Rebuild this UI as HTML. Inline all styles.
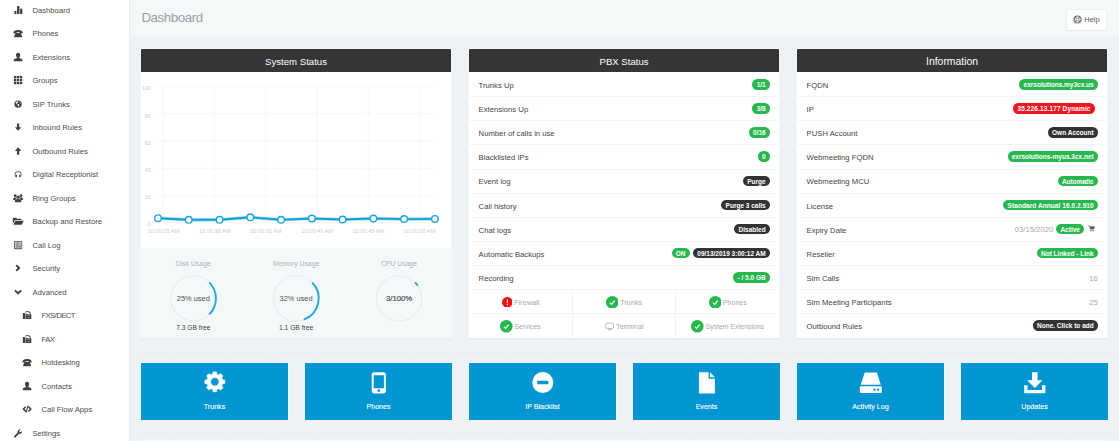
<!DOCTYPE html>
<html>
<head>
<meta charset="utf-8">
<title>Dashboard</title>
<style>
*{box-sizing:border-box;margin:0;padding:0}
html,body{width:1119px;height:441px;overflow:hidden;background:#eef2f4;font-family:"Liberation Sans",sans-serif;font-size:7.7px;color:#484848}
#side{position:absolute;left:0;top:0;width:130px;height:441px;background:#fff;border-right:1px solid #e9eef1}
.nav{position:absolute;left:0;width:129px;height:23.5px;line-height:23.5px;white-space:nowrap;color:#4d4d4d;font-size:7.7px}
.nav svg{position:absolute;left:13.0px;top:6.4px;width:10.2px;height:10.2px;fill:#3b4044;overflow:visible}
.nav span{position:absolute;left:32.4px;top:.25px}
.nav.sub svg{left:22.0px}
.nav.sub span{left:41.4px}
#top{position:absolute;left:130px;top:0;width:989px;height:37.6px;background:#f5f8f9;border-bottom:1px solid #ecf0f2}
#top h1{position:absolute;left:11.4px;top:9.5px;font-size:13.4px;line-height:16px;font-weight:400;color:#98a0a5;letter-spacing:-.47px}
#help{position:absolute;left:937px;top:10px;width:39px;height:20px;background:#fff;border-radius:1.5px;font-size:7.4px;color:#555;line-height:18.6px;box-shadow:0 0 0 .5px #e6eaed,0 .8px 1px rgba(0,0,0,.05)}
#help svg{position:absolute;left:6.1px;top:4.9px;width:9px;height:9px}
#help span{position:absolute;left:17.3px;top:0;transform:translateY(1.1px)}
.panel{position:absolute;top:49.3px;width:309.9px;height:288.8px;background:#fff;box-shadow:0 0 0 1px rgba(255,255,255,.35),0 1px 1px rgba(0,0,0,.08)}
.panel .hd{height:23px;margin-bottom:.7px;background:#353535;color:#fff;text-align:center;font-size:9.6px;line-height:25.6px;overflow:hidden;border-radius:1px 1px 0 0}
.row{position:relative;height:24.15px;border-bottom:1px solid #f4f4f4;line-height:23.6px}
.row .l{position:absolute;left:9.5px;top:.9px;white-space:nowrap;color:#444}
.row .r{position:absolute;right:9.1px;top:-.8px;white-space:nowrap;color:#a2aab0;display:flex;align-items:center;height:24.15px}
.b{display:inline-block;height:10.5px;line-height:12.2px;overflow:hidden;border-radius:5.3px;padding:0 4.2px;color:#fff;font-weight:700;font-size:6.5px;background:#27b84d;margin-left:3.4px}
.t{position:relative;top:1px}
.b.k{background:#333}
.b.rd{background:#ef1620}
.grid{display:flex;height:24.15px;border-bottom:1px solid #f4f4f4}
.grid div{flex:1;border-right:1px solid #f3f3f3;display:flex;align-items:center;justify-content:center;color:#a8a8a8;font-size:7.05px;padding-top:.4px}
.grid div:last-child{border-right:0}
.grid svg{width:12.6px;height:12.6px;margin-right:1.8px}.grid svg.ex{width:10.6px;height:10.6px;margin-right:2px}
.dots{position:absolute;left:141px;width:978px;height:1px;background:repeating-linear-gradient(90deg,#e2e6e9 0 1.2px,transparent 1.2px 2.35px)}
.tile{position:absolute;top:363px;width:146.4px;height:57.3px;background:#0095d3;color:#fff;text-align:center;font-size:7.1px;font-weight:700;box-shadow:0 0 0 .5px rgba(255,255,255,.6)}
.tile svg{position:absolute;left:50%;top:7.6px;width:23.6px;height:23.6px;margin-left:-11.6px;fill:#fff}
.tile span{position:absolute;left:0;right:0;top:38.8px;line-height:10px;font-weight:400;-webkit-text-stroke:.12px #fff}
</style>
</head>
<body>
<div id="side">
<!--NAV0-->
<div class="nav" style="top:-1.55px"><svg viewBox="0 0 24 24"><rect x="3.2" y="14" width="4.8" height="7.4"/><rect x="9.6" y="2.600" width="5.600" height="18.800"/><rect x="16.8" y="8.600" width="5.200" height="12.800"/></svg><span>Dashboard</span></div>
<div class="nav" style="top:21.95px"><svg viewBox="0 0 24 24"><path d="M1.200 10.400c0-2.400 3.400-5.800 10.800-5.800s10.800 3.400 10.800 5.800v1.400c0 .8-.5 1.200-1.300 1.200h-4.200c-.8 0-1.300-.4-1.300-1.200V9.800c-1.300-.4-2.600-.6-4-.6s-2.700.2-4 .6v2c0 .8-.5 1.200-1.300 1.200H2.500c-.8 0-1.300-.4-1.300-1.200z"/><path d="M8 11h8c.9 0 1.500.500 1.900 1.300l3 6c.4.900.5 1.500.5 2.100 0 .8-.5 1.300-1.300 1.300H3.900c-.8 0-1.300-.5-1.300-1.300 0-.6.100-1.200.500-2.100l3-6c.4-.8 1-1.300 1.900-1.300z"/></svg><span>Phones</span></div>
<div class="nav" style="top:45.45px"><svg viewBox="0 0 24 24"><path d="M12 2c3 0 5 2.200 5 5.200 0 2-.8 3.900-2 5.100v1.300c0 .5.300.800.800 1l4.800 1.900c1.100.5 1.600 1.300 1.600 2.500v2.800H1.800V19c0-1.200.5-2 1.600-2.500l4.800-1.900c.5-.2.800-.5.800-1v-1.300c-1.200-1.200-2-3.100-2-5.100C7 4.200 9 2 12 2z"/></svg><span>Extensions</span></div>
<div class="nav" style="top:68.95px"><svg viewBox="0 0 24 24"><rect x="2.2" y="2.2" width="5.600" height="5.600"/><rect x="2.2" y="9.2" width="5.600" height="5.600"/><rect x="2.2" y="16.2" width="5.600" height="5.600"/><rect x="9.2" y="2.2" width="5.600" height="5.600"/><rect x="9.2" y="9.2" width="5.600" height="5.600"/><rect x="9.2" y="16.2" width="5.600" height="5.600"/><rect x="16.2" y="2.2" width="5.600" height="5.600"/><rect x="16.2" y="9.2" width="5.600" height="5.600"/><rect x="16.2" y="16.2" width="5.600" height="5.600"/></svg><span>Groups</span></div>
<div class="nav" style="top:92.45px"><svg viewBox="0 0 24 24"><g transform="translate(12 12) scale(.84) translate(-12 -12)"><path fill-rule="evenodd" d="M12 1.600a10.400 10.400 0 1 0 0 20.800 10.400 10.400 0 0 0 0-20.800zM4.800 9c1.400-3 3.600-4.500 6.400-4.800l1.700 1.600-1.200 1.900-2.500.4-.6 2.400 2.300 1.100 2.800.2 1.800 1.700-.5 2.800-2.400 3.100-1.200-2.800-.2-2.900-2.400-1.300-2.300-2.500zM19.800 9.400l-2.500 1-1.300-1.800 1.400-1.800c1.100.7 1.900 1.500 2.400 2.600z"/></g></svg><span>SIP Trunks</span></div>
<div class="nav" style="top:115.95px"><svg viewBox="0 0 24 24"><path d="M9.400 3.400h5.200v9h4.800L12 20.800 4.600 12.400h4.800z"/></svg><span>Inbound Rules</span></div>
<div class="nav" style="top:139.45px"><svg viewBox="0 0 24 24"><path d="M9.400 20.600h5.200v-9h4.800L12 3.200 4.600 11.600h4.800z"/></svg><span>Outbound Rules</span></div>
<div class="nav" style="top:162.95px"><svg viewBox="0 0 24 24"><g transform="translate(12 12.6) scale(.86) translate(-12 -12)"><path d="M12 3.600a9.400 9.400 0 0 0-9.400 9.400c0 2.200.800 4.300 2.100 5.900l1.500-1.100a7.600 7.600 0 0 1-1.700-4.800 7.500 7.500 0 0 1 15 0c0 1.800-.600 3.500-1.700 4.800l1.500 1.100a9.400 9.400 0 0 0 2.100-5.900A9.400 9.400 0 0 0 12 3.600z"/><rect x="5" y="12.800" width="4" height="7" rx="1.300"/><rect x="15" y="12.800" width="4" height="7" rx="1.300"/></g></svg><span>Digital Receptionist</span></div>
<div class="nav" style="top:186.45px"><svg viewBox="0 0 24 24"><circle cx="12" cy="9.800" r="3.900"/><path d="M4.400 21.600v-2.600c0-3 2.800-4.800 7.600-4.800s7.600 1.800 7.600 4.800v2.600z"/><circle cx="5.200" cy="6.200" r="3.300"/><path d="M.4 16.600v-2.400c0-2.200 1.700-3.600 4.800-3.600.9 0 1.700.1 2.400.4-.2 1.400.2 2.700 1.200 3.700-1.900.300-3.600.900-4.700 1.900z"/><circle cx="18.800" cy="6.200" r="3.300"/><path d="M23.600 16.600v-2.400c0-2.200-1.700-3.600-4.800-3.600-.9 0-1.700.1-2.400.4.200 1.400-.2 2.700-1.200 3.700 1.900.300 3.600.900 4.700 1.900z"/></svg><span>Ring Groups</span></div>
<div class="nav" style="top:209.95px"><svg viewBox="0 0 24 24"><g transform="translate(-1.2 0) scale(1.13 1)"><path d="M.8 18.600V5.400c0-.8.500-1.300 1.300-1.300h5.400l2 2.200h7.800c.8 0 1.300.5 1.300 1.300v1.800H6.400c-.9 0-1.500.4-1.900 1.200z"/><path d="M2 20.400l3.700-8.400c.3-.6.700-.9 1.400-.9h15.700c.5 0 .7.400.5.900l-3.500 7.600c-.3.600-.7.800-1.400.8z"/></g></svg><span>Backup and Restore</span></div>
<div class="nav" style="top:233.45px"><svg viewBox="0 0 24 24"><path fill="#4c5257" fill-rule="evenodd" d="M3.800 2.400h16.400c.8 0 1.400.6 1.400 1.400v16.400c0 .8-.6 1.400-1.400 1.400H3.800c-.8 0-1.400-.6-1.400-1.400V3.800c0-.8.600-1.400 1.400-1.400zM4.400 4.400v15.200h15.200V4.400z"/><rect x="5.800" y="5.800" width="4.600" height="12.400" fill="#8e9498"/><path fill-rule="evenodd" fill="#7b8186" d="M12.800 5.800h5.400v12.400h-5.400zM14.200 8v1.800h2.600V8zM14.200 11.400v1.800h2.600v-1.800z"/><rect x="10.800" y="4.400" width="1.600" height="15.200" fill="#4c5257"/></svg><span>Call Log</span></div>
<div class="nav" style="top:256.95px"><svg viewBox="0 0 24 24"><path d="M9.200 3.800L6 7l5.200 5L6 17l3.200 3.200L17.600 12z"/></svg><span>Security</span></div>
<div class="nav" style="top:280.45px"><svg viewBox="0 0 24 24"><path d="M3 9.400l3.200-3.200 5.800 5.600 5.800-5.600L21 9.400l-9 8.800z"/></svg><span>Advanced</span></div>
<div class="nav sub" style="top:303.95px"><svg viewBox="0 0 24 24"><path fill-rule="evenodd" d="M2 8.200c0-.8.600-1.400 1.400-1.400h2.200c.8 0 1.400.6 1.400 1.400v11.800c0 .8-.6 1.400-1.400 1.400H3.400c-.8 0-1.400-.6-1.400-1.400zM8.600 3h8.400l3 3v3.200h-1.600V7h-2.400V4.600h-5.800v4.600H8.600zM8 9.800h12.600c.8 0 1.400.6 1.400 1.400v8.800c0 .8-.6 1.400-1.400 1.400H8zM11 12.800v1.400h1.700v-1.400zM14.200 12.800v1.400h1.700v-1.400zM17.400 12.800v1.400h1.700v-1.400zM11 16.400v1.400h1.700v-1.400zM14.200 16.400v1.400h1.700v-1.400zM17.400 16.400v1.400h1.700v-1.400z"/></svg><span style="letter-spacing:-.58px">FXS/DECT</span></div>
<div class="nav sub" style="top:327.45px"><svg viewBox="0 0 24 24"><path fill-rule="evenodd" d="M2 8.200c0-.8.600-1.400 1.400-1.400h2.200c.8 0 1.400.6 1.400 1.400v11.800c0 .8-.6 1.400-1.400 1.400H3.400c-.8 0-1.400-.6-1.400-1.400zM8.600 3h8.400l3 3v3.200h-1.600V7h-2.400V4.600h-5.800v4.600H8.600zM8 9.800h12.600c.8 0 1.400.6 1.400 1.400v8.800c0 .8-.6 1.400-1.400 1.400H8zM11 12.800v1.400h1.700v-1.400zM14.200 12.800v1.400h1.700v-1.400zM17.400 12.800v1.400h1.700v-1.400zM11 16.400v1.400h1.700v-1.400zM14.200 16.400v1.400h1.700v-1.400zM17.400 16.400v1.400h1.700v-1.400z"/></svg><span style="letter-spacing:-.5px">FAX</span></div>
<div class="nav sub" style="top:350.95px"><svg viewBox="0 0 24 24"><path d="M1.200 10.400c0-2.400 3.400-5.800 10.800-5.800s10.800 3.400 10.800 5.800v1.400c0 .8-.5 1.200-1.300 1.200h-4.200c-.8 0-1.300-.4-1.300-1.200V9.800c-1.300-.4-2.600-.6-4-.6s-2.700.2-4 .6v2c0 .8-.5 1.200-1.300 1.200H2.500c-.8 0-1.300-.4-1.300-1.200z"/><path d="M8 11h8c.9 0 1.500.500 1.900 1.300l3 6c.4.900.5 1.500.5 2.100 0 .8-.5 1.300-1.300 1.300H3.900c-.8 0-1.300-.5-1.300-1.300 0-.6.100-1.200.500-2.100l3-6c.4-.8 1-1.300 1.900-1.300z"/></svg><span>Hotdesking</span></div>
<div class="nav sub" style="top:374.45px"><svg viewBox="0 0 24 24"><path d="M12 2c3 0 5 2.200 5 5.200 0 2-.8 3.900-2 5.100v1.300c0 .5.300.800.800 1l4.800 1.900c1.100.5 1.600 1.300 1.600 2.500v2.800H1.800V19c0-1.200.5-2 1.600-2.500l4.800-1.900c.5-.2.800-.5.800-1v-1.300c-1.200-1.200-2-3.100-2-5.100C7 4.200 9 2 12 2z"/></svg><span>Contacts</span></div>
<div class="nav sub" style="top:397.95px"><svg viewBox="0 0 24 24"><path d="M7.600 5.200l2.400 2.400L5.800 12l4.200 4.400-2.400 2.400L.8 12zM16.400 5.200L14 7.600l4.200 4.400-4.200 4.400 2.400 2.400 6.800-6.800zM13.200 3.600l2.600.7-5 16.100-2.600-.7z"/></svg><span>Call Flow Apps</span></div>
<div class="nav" style="top:421.45px"><svg viewBox="0 0 24 24"><path d="M21.400 6.800c.4 1.900-.2 3.900-1.600 5.300-1.500 1.500-3.600 2-5.500 1.500L6 21.900c-.9.900-2.300.9-3.200 0s-.9-2.300 0-3.200l8.300-8.300c-.5-1.900 0-4 1.500-5.500 1.400-1.400 3.400-2 5.300-1.600l-3.300 3.300.8 2.700 2.700.8z"/></svg><span>Settings</span></div>
<!--NAV1-->
</div>
<div id="top"><h1>Dashboard</h1>
<div id="help"><svg viewBox="0 0 16 16"><circle cx="8" cy="8" r="6.200" fill="none" stroke="#707070" stroke-width="2"/><circle cx="8" cy="8" r="2.700" fill="none" stroke="#707070" stroke-width="1.300"/><path d="M3.600 3.600l2.400 2.400M12.400 3.600L10 6M3.600 12.400L6 10M12.400 12.400L10 10" stroke="#707070" stroke-width="1.800"/></svg><span>Help</span></div>
</div>

<div class="panel" style="left:141.1px" id="sys">
<div class="hd">System Status</div>
<!--SYS0--><div style="position:absolute;left:0;top:199.2px;width:309.9px;height:89.6px;background:#f4f8f9"></div><svg font-family="Liberation Sans" style="position:absolute;left:0;top:23px;width:309.9px;height:176.2px" viewBox="0 0 309.9 176.2"><line x1="16.9" x2="293.9" y1="14.70" y2="14.70" stroke="#f3f3f3" stroke-width=".65"/><line x1="16.9" x2="293.9" y1="41.90" y2="41.90" stroke="#f3f3f3" stroke-width=".65"/><line x1="16.9" x2="293.9" y1="69.10" y2="69.10" stroke="#f3f3f3" stroke-width=".65"/><line x1="16.9" x2="293.9" y1="96.30" y2="96.30" stroke="#f3f3f3" stroke-width=".65"/><line x1="16.9" x2="293.9" y1="123.50" y2="123.50" stroke="#f3f3f3" stroke-width=".65"/><line x1="16.9" x2="293.9" y1="150.70" y2="150.70" stroke="#f3f3f3" stroke-width=".65"/><line x1="22.30" x2="22.30" y1="14.7" y2="152.2" stroke="#f3f3f3" stroke-width=".65"/><line x1="73.50" x2="73.50" y1="14.7" y2="152.2" stroke="#f3f3f3" stroke-width=".65"/><line x1="124.70" x2="124.70" y1="14.7" y2="152.2" stroke="#f3f3f3" stroke-width=".65"/><line x1="175.90" x2="175.90" y1="14.7" y2="152.2" stroke="#f3f3f3" stroke-width=".65"/><line x1="227.10" x2="227.10" y1="14.7" y2="152.2" stroke="#f3f3f3" stroke-width=".65"/><line x1="278.30" x2="278.30" y1="14.7" y2="152.2" stroke="#f3f3f3" stroke-width=".65"/><text  x="9.9" y="18.40" text-anchor="end" font-size="5.5" fill="#cdcdcd">100</text><text  x="9.9" y="45.60" text-anchor="end" font-size="5.5" fill="#cdcdcd">80</text><text  x="9.9" y="72.80" text-anchor="end" font-size="5.5" fill="#cdcdcd">60</text><text  x="9.9" y="100.00" text-anchor="end" font-size="5.5" fill="#cdcdcd">40</text><text  x="9.9" y="127.20" text-anchor="end" font-size="5.5" fill="#cdcdcd">20</text><text  x="9.9" y="154.40" text-anchor="end" font-size="5.5" fill="#cdcdcd">0</text><text x="22.50" y="160.7" text-anchor="middle" font-size="5.65" fill="#cdcdcd">10:00:25 AM</text><text x="73.70" y="160.7" text-anchor="middle" font-size="5.65" fill="#cdcdcd">10:00:30 AM</text><text x="124.90" y="160.7" text-anchor="middle" font-size="5.65" fill="#cdcdcd">10:00:35 AM</text><text x="176.10" y="160.7" text-anchor="middle" font-size="5.65" fill="#cdcdcd">10:00:40 AM</text><text x="227.30" y="160.7" text-anchor="middle" font-size="5.65" fill="#cdcdcd">10:00:45 AM</text><text x="278.50" y="160.7" text-anchor="middle" font-size="5.65" fill="#cdcdcd">10:00:50 AM</text><polyline points="17.00,146.20 47.77,147.80 78.54,147.80 109.31,145.30 140.08,147.80 170.85,146.50 201.62,147.50 232.39,146.50 263.16,147.10 293.93,146.90" fill="none" stroke="#9ad7f1" stroke-width="3.2" stroke-linejoin="round"/><polyline points="17.00,146.20 47.77,147.80 78.54,147.80 109.31,145.30 140.08,147.80 170.85,146.50 201.62,147.50 232.39,146.50 263.16,147.10 293.93,146.90" fill="none" stroke="#11a1dc" stroke-width="1.9" stroke-linejoin="round"/><circle cx="17.00" cy="146.20" r="3.3" fill="#fff" stroke="#1ba5de" stroke-width="1.4"/><circle cx="47.77" cy="147.80" r="3.3" fill="#fff" stroke="#1ba5de" stroke-width="1.4"/><circle cx="78.54" cy="147.80" r="3.3" fill="#fff" stroke="#1ba5de" stroke-width="1.4"/><circle cx="109.31" cy="145.30" r="3.3" fill="#fff" stroke="#1ba5de" stroke-width="1.4"/><circle cx="140.08" cy="147.80" r="3.3" fill="#fff" stroke="#1ba5de" stroke-width="1.4"/><circle cx="170.85" cy="146.50" r="3.3" fill="#fff" stroke="#1ba5de" stroke-width="1.4"/><circle cx="201.62" cy="147.50" r="3.3" fill="#fff" stroke="#1ba5de" stroke-width="1.4"/><circle cx="232.39" cy="146.50" r="3.3" fill="#fff" stroke="#1ba5de" stroke-width="1.4"/><circle cx="263.16" cy="147.10" r="3.3" fill="#fff" stroke="#1ba5de" stroke-width="1.4"/><circle cx="293.93" cy="146.90" r="3.3" fill="#fff" stroke="#1ba5de" stroke-width="1.4"/></svg><svg style="position:absolute;left:0;top:0;width:309.9px;height:288.8px" viewBox="0 0 309.9 288.8" font-family="Liberation Sans"><circle cx="52.3" cy="249.40" r="22.6" fill="none" stroke="#e6eaec" stroke-width="1.1"/><path d="M68.28 233.42A22.6 22.6 0 0 1 68.28 265.38" fill="none" stroke="#22a8e0" stroke-width="1.9"/><text x="52.3" y="217.40" text-anchor="middle" font-size="6.85" fill="#abb3b8">Disk Usage</text><text x="52.3" y="252.20" text-anchor="middle" font-size="7.45" fill="#555">25% used</text><text x="52.3" y="280.60" text-anchor="middle" font-size="6.7" fill="#444">7.3 GB free</text><circle cx="155.1" cy="249.40" r="22.6" fill="none" stroke="#e6eaec" stroke-width="1.1"/><path d="M171.08 233.42A22.6 22.6 0 0 1 162.76 270.66" fill="none" stroke="#22a8e0" stroke-width="1.9"/><text x="155.1" y="217.40" text-anchor="middle" font-size="6.85" fill="#abb3b8">Memory Usage</text><text x="155.1" y="252.20" text-anchor="middle" font-size="7.45" fill="#555">32% used</text><text x="155.1" y="280.60" text-anchor="middle" font-size="6.7" fill="#444">1.1 GB free</text><circle cx="258.1" cy="249.40" r="22.6" fill="none" stroke="#e6eaec" stroke-width="1.1"/><path d="M274.08 233.42A22.6 22.6 0 0 1 276.79 236.70" fill="none" stroke="#27b84d" stroke-width="1.9"/><text x="258.1" y="217.40" text-anchor="middle" font-size="6.85" fill="#abb3b8">CPU Usage</text><text x="258.1" y="252.20" text-anchor="middle" font-size="7.75" stroke="#555" stroke-width=".22" fill="#555">3/100%</text></svg><!--SYS1-->
</div>

<div class="panel" style="left:469.1px" id="pbx">
<div class="hd">PBX Status</div>
<div class="row"><span class="l">Trunks Up</span><span class="r"><span class="b">1/1</span></span></div>
<div class="row"><span class="l">Extensions Up</span><span class="r"><span class="b">3/8</span></span></div>
<div class="row"><span class="l">Number of calls in use</span><span class="r"><span class="b">0/16</span></span></div>
<div class="row"><span class="l">Blacklisted IPs</span><span class="r"><span class="b">0</span></span></div>
<div class="row"><span class="l">Event log</span><span class="r"><span class="b k">Purge</span></span></div>
<div class="row"><span class="l">Call history</span><span class="r"><span class="b k">Purge 3 calls</span></span></div>
<div class="row"><span class="l">Chat logs</span><span class="r"><span class="b k">Disabled</span></span></div>
<div class="row"><span class="l">Automatic Backups</span><span class="r"><span class="b">ON</span><span class="b k">09/13/2019 3:00:12 AM</span></span></div>
<div class="row"><span class="l">Recording</span><span class="r"><span class="b">- / 5.0 GB</span></span></div>
<div class="grid"><div><svg class="ex" viewBox="0 0 20 20"><circle cx="10" cy="10" r="10" fill="#fa0a10"/><rect x="9" y="4.400" width="2" height="7.200" rx=".5" fill="#fff"/><circle cx="10" cy="14.600" r="1.250" fill="#fff"/></svg><span style="font-size:7.3px">Firewall</span></div><div><svg viewBox="0 0 20 20"><circle cx="10" cy="10" r="10" fill="#27b84d"/><path d="M6.200 10.500l2.700 2.700 4.900-5.800" fill="none" stroke="#fff" stroke-width="1.900"/></svg><span style="font-size:7.25px">Trunks</span></div><div><svg viewBox="0 0 20 20"><circle cx="10" cy="10" r="10" fill="#27b84d"/><path d="M6.200 10.500l2.700 2.700 4.900-5.800" fill="none" stroke="#fff" stroke-width="1.900"/></svg>Phones</div></div>
<div class="grid" style="border-bottom:0"><div><svg viewBox="0 0 20 20"><circle cx="10" cy="10" r="10" fill="#27b84d"/><path d="M6.200 10.500l2.700 2.700 4.900-5.800" fill="none" stroke="#fff" stroke-width="1.900"/></svg><span style="font-size:6.9px">Services</span></div><div><svg viewBox="0 0 20 20" style="width:9.3px;height:9.3px;margin-right:2.2px;position:relative;top:-.5px"><rect x="1.6" y="2.6" width="16.8" height="11.2" rx="1.6" fill="none" stroke="#9a9a9a" stroke-width="1.3"/><path d="M8 14.200h4l.5 2.400h-5z" fill="#aaa"/><rect x="6" y="16.400" width="8" height="1.200" fill="#a0a0a0"/></svg><span style="font-size:7.3px">Terminal</span></div><div><svg viewBox="0 0 20 20"><circle cx="10" cy="10" r="10" fill="#27b84d"/><path d="M6.200 10.500l2.700 2.700 4.900-5.800" fill="none" stroke="#fff" stroke-width="1.900"/></svg><span style="font-size:6.85px">System Extensions</span></div></div>
</div>

<div class="panel" style="left:797.1px" id="inf">
<div class="hd" style="font-size:10.4px;line-height:26.2px">Information</div>
<div class="row"><span class="l">FQDN</span><span class="r"><span class="b">exrsolutions.my3cx.us</span></span></div>
<div class="row"><span class="l">IP</span><span class="r" style="right:12.2px"><span class="b rd" style="letter-spacing:.13px">35.226.13.177 Dynamic</span></span></div>
<div class="row"><span class="l">PUSH Account</span><span class="r"><span class="b k">Own Account</span></span></div>
<div class="row"><span class="l">Webmeeting FQDN</span><span class="r"><span class="b">exrsolutions-myus.3cx.net</span></span></div>
<div class="row"><span class="l">Webmeeting MCU</span><span class="r"><span class="b">Automatic</span></span></div>
<div class="row"><span class="l">License</span><span class="r"><span class="b" style="letter-spacing:.07px">Standard Annual 16.0.2.910</span></span></div>
<div class="row"><span class="l">Expiry Date</span><span class="r" style="right:8.5px"><span class="t">03/15/2020</span><span class="b" style="margin-left:3px">Active</span><svg viewBox="0 0 20 20" style="width:7.4px;height:7.4px;margin-left:3.6px;margin-right:3.4px"><path d="M.6 2.4h3.3l2 8.6h9.3l2.6-6.4H5.6" fill="none" stroke="#555" stroke-width="2"/><path d="M6 5.2h11l-2.2 5.4H7.2z" fill="#555"/><circle cx="7.8" cy="15.4" r="1.9" fill="#555"/><circle cx="13.8" cy="15.4" r="1.9" fill="#555"/></svg></span></div>
<div class="row"><span class="l">Reseller</span><span class="r"><span class="b">Not Linked - Link</span></span></div>
<div class="row"><span class="l">Sim Calls</span><span class="r"><span class="t">16</span></span></div>
<div class="row"><span class="l">Sim Meeting Participants</span><span class="r"><span class="t">25</span></span></div>
<div class="row" style="border-bottom:0"><span class="l">Outbound Rules</span><span class="r"><span class="b k">None. Click to add</span></span></div>
</div>

<div class="dots" style="top:353px"></div>
<div class="tile" style="left:141.3px"><svg viewBox="0 0 24 24" style="top:6.9px"><path fill-rule="evenodd" stroke="#fff" stroke-width=".8" stroke-linejoin="round" d="M9.95 4.27L10.33 1.94L13.67 1.94L14.05 4.27L16.02 5.08L17.93 3.70L20.30 6.07L18.92 7.98L19.73 9.95L22.06 10.33L22.06 13.67L19.73 14.05L18.92 16.02L20.30 17.93L17.93 20.30L16.02 18.92L14.05 19.73L13.67 22.06L10.33 22.06L9.95 19.73L7.98 18.92L6.07 20.30L3.70 17.93L5.08 16.02L4.27 14.05L1.94 13.67L1.94 10.33L4.27 9.95L5.08 7.98L3.70 6.07L6.07 3.70L7.98 5.08zM12 7.70a4.3 4.3 0 1 0 0 8.60a4.3 4.3 0 1 0 0 -8.60z"/></svg><span>Trunks</span></div>
<div class="tile" style="left:305.3px"><svg viewBox="0 0 24 24"><path fill-rule="evenodd" d="M7.200 1.200h9.600c1.400 0 2.400 1 2.400 2.400v16.800c0 1.400-1 2.400-2.400 2.400H7.200c-1.400 0-2.400-1-2.400-2.400V3.600c0-1.400 1-2.400 2.400-2.400zM6.800 4.200v13.400h10.400V4.200zM12 18.600a1.400 1.400 0 1 0 0 2.800 1.400 1.400 0 0 0 0-2.800z"/></svg><span>Phones</span></div>
<div class="tile" style="left:469.3px"><svg viewBox="0 0 24 24"><path fill-rule="evenodd" d="M12 1a10.700 10.700 0 1 0 0 21.400A10.700 10.700 0 0 0 12 1zM6.400 10h11.200v3.400H6.400z"/></svg><span>IP Blacklist</span></div>
<div class="tile" style="left:633.3px"><svg viewBox="0 0 24 24"><path d="M4 1.200h9.800v6.600h6.400v15H4z"/><path d="M15.200 1.200l5 5.200h-5z"/></svg><span>Events</span></div>
<div class="tile" style="left:797.3px"><svg viewBox="0 0 24 24"><path d="M5.800 1.600h12.400l4 12.400H1.800z"/><path fill-rule="evenodd" d="M2 15.400h20c.8 0 1.200.4 1.200 1.200v4.600c0 .8-.4 1.200-1.200 1.200H2c-.8 0-1.200-.4-1.200-1.200v-4.600c0-.8.400-1.200 1.200-1.200zM15.800 17.800a1.200 1.200 0 1 0 0 2.400 1.200 1.200 0 0 0 0-2.400zM19.400 17.800a1.200 1.200 0 1 0 0 2.400 1.200 1.200 0 0 0 0-2.400z"/></svg><span>Activity Log</span></div>
<div class="tile" style="left:961.3px"><svg viewBox="0 0 24 24"><path d="M9.200 1.200h5.600v8.200h5L12 17.400 4.200 9.400h5z"/><path d="M1.200 14.400h3.400v4.800h14.800v-4.800h3.400v8.200H1.200z"/></svg><span>Updates</span></div>
<div class="dots" style="top:433px"></div>
<div id="sliver" style="position:absolute;left:141px;top:440px;width:966px;height:1px;background:#f7f9fa"></div>
</body>
</html>
